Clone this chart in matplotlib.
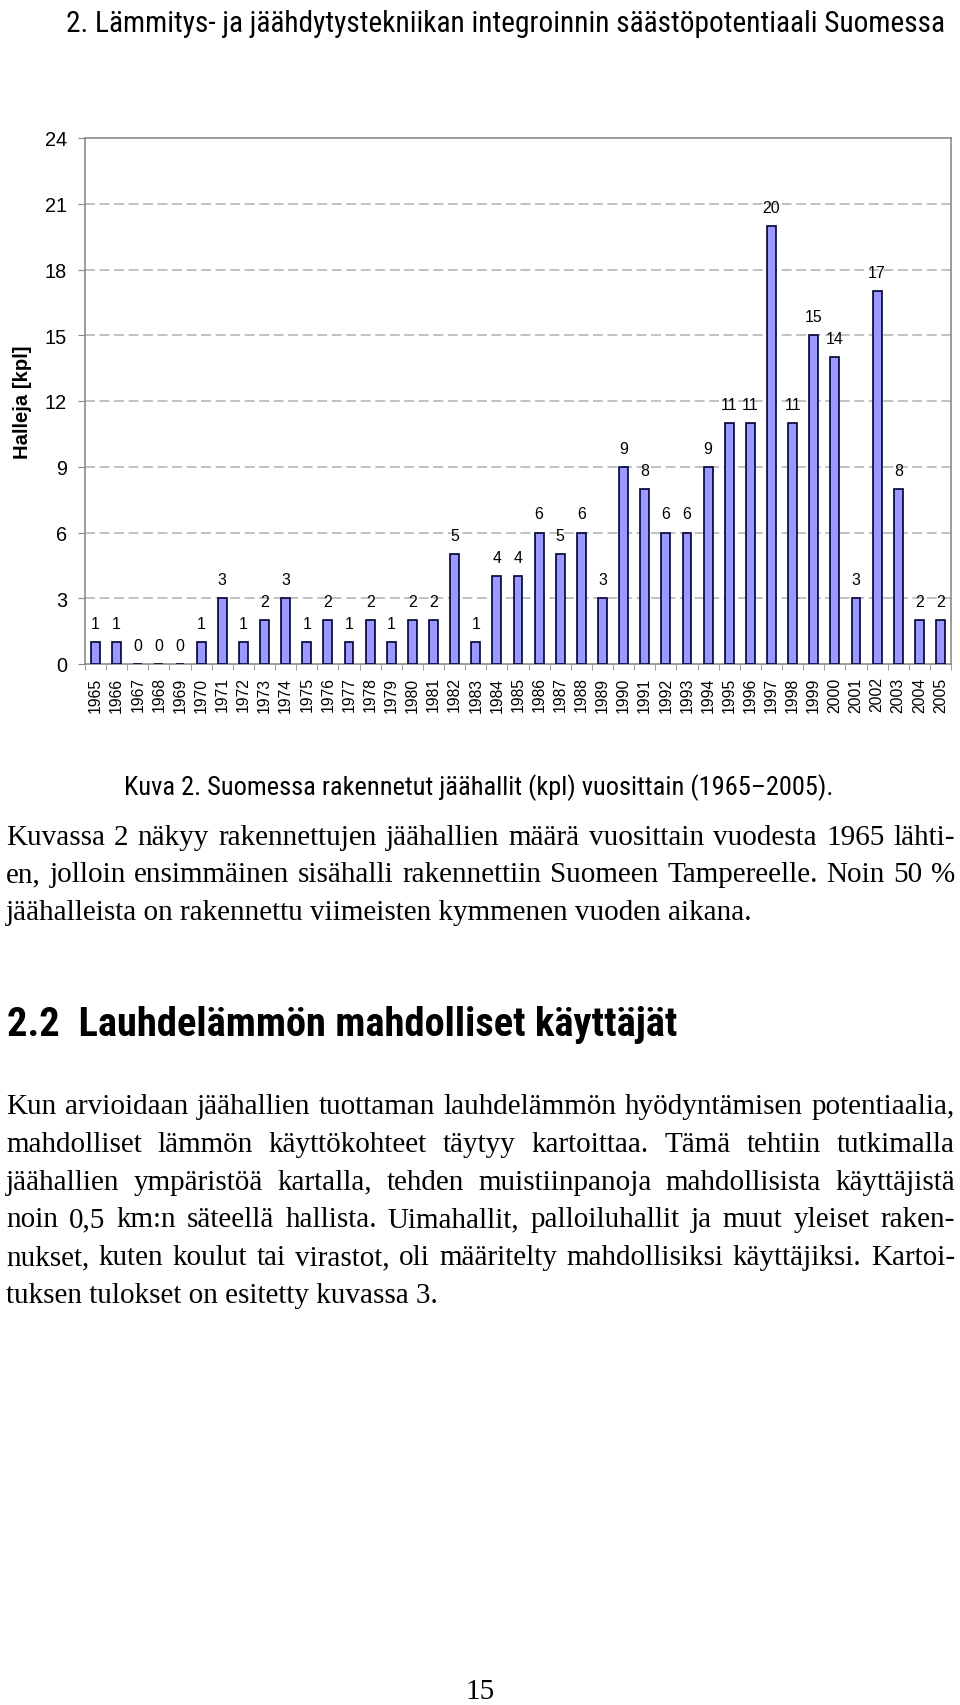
import numpy as np
import matplotlib
matplotlib.use("Agg")
import matplotlib.pyplot as plt
from matplotlib import font_manager

# data: ice halls built in Finland per year
years = list(range(1965, 2006))
halls = [1, 1, 0, 0, 0, 1, 3, 1, 2, 3,
         1, 2, 1, 2, 1, 2, 2, 5, 1, 4,
         4, 6, 5, 6, 3, 9, 8, 6, 6, 9,
         11, 11, 20, 11, 15, 14, 3, 17, 8, 2,
         2]
yticks = [0, 3, 6, 9, 12, 15, 18, 21, 24]

title = "2. Lämmitys- ja jäähdytystekniikan integroinnin säästöpotentiaali Suomessa"
ylabel = "Halleja [kpl]"
caption = "Kuva 2. Suomessa rakennetut jäähallit (kpl) vuosittain (1965\u20132005)."
heading = "2.2  Lauhdelämmön mahdolliset käyttäjät"
para1 = [
    "Kuvassa 2 näkyy rakennettujen jäähallien määrä vuosittain vuodesta 1965 lähti-",
    "en, jolloin ensimmäinen sisähalli rakennettiin Suomeen Tampereelle. Noin 50 %",
    "jäähalleista on rakennettu viimeisten kymmenen vuoden aikana.",
]
para2 = [
    "Kun arvioidaan jäähallien tuottaman lauhdelämmön hyödyntämisen potentiaalia,",
    "mahdolliset lämmön käyttökohteet täytyy kartoittaa. Tämä tehtiin tutkimalla",
    "jäähallien ympäristöä kartalla, tehden muistiinpanoja mahdollisista käyttäjistä",
    "noin 0,5 km:n säteellä hallista. Uimahallit, palloiluhallit ja muut yleiset raken-",
    "nukset, kuten koulut tai virastot, oli määritelty mahdollisiksi käyttäjiksi. Kartoi-",
    "tuksen tulokset on esitetty kuvassa 3.",
]
page_no = "15"

fonts = font_manager.fontManager.ttflist
names = {f.name for f in fonts}
sans = "Liberation Sans" if "Liberation Sans" in names else "DejaVu Sans"
serif = "Liberation Serif" if "Liberation Serif" in names else "DejaVu Serif"

# narrow sans for the page texts (Arial Narrow look), if one is installed
narrow = dict(family=sans)
for nm in ["Liberation Sans Narrow", "Arial Narrow", "Roboto Condensed",
           "Open Sans Condensed"]:
    if nm in names:
        narrow = dict(family=nm)
        break
else:
    for nm in ["Roboto", "Noto Sans", "Open Sans", "DejaVu Sans"]:
        if any(f.name == nm and "condensed" in str(f.stretch).lower()
               for f in fonts):
            narrow = dict(family=nm, fontstretch="condensed")
            break

W, H = 960, 1706
fig = plt.figure(figsize=(W / 100, H / 100), dpi=100)
renderer = fig.canvas.get_renderer()


def fx(px):
    return px / W


def fy(py):
    return 1 - py / H


def text_w(s, size, **kw):
    t = fig.text(0.5, 0.5, s, fontsize=size, **kw)
    w = t.get_window_extent(renderer).width
    t.remove()
    return w


def fit_size(s, target_w, base=20, **kw):
    return base * target_w / text_w(s, base, **kw)


def fit_text(x, y, s, target_w, **kw):
    size = fit_size(s, target_w, **{k: v for k, v in kw.items()
                                    if k not in ("ha", "va")})
    return fig.text(fx(x), fy(y), s, fontsize=size, **kw)


def justify(lines, y0, step, size, left=6, right=955):
    for i, line in enumerate(lines):
        y = y0 + i * step
        if i == len(lines) - 1:
            fig.text(fx(left), fy(y), line, fontsize=size, family=serif,
                     va="baseline", ha="left")
            continue
        words = line.split(" ")
        ws = [text_w(wd, size, family=serif) for wd in words]
        gap = (right - left - sum(ws)) / (len(words) - 1)
        x = left
        for wd, w in zip(words, ws):
            fig.text(fx(x), fy(y), wd, fontsize=size, family=serif,
                     va="baseline", ha="left")
            x += w + gap


# chart
ax = fig.add_axes([fx(85), fy(665), fx(951) - fx(85), fy(139) - fy(665)])
pos = np.arange(len(years))
bars = ax.bar(pos, halls, width=0.42, color="#9999ff",
              edgecolor="#000033", linewidth=1.2, zorder=3)
ax.bar_label(bars, labels=[str(v) for v in halls], padding=8,
             fontsize=11.4, family=sans, color="black")

ax.set_xlim(-0.5, len(years) - 0.5)
ax.set_ylim(0, 24)
ax.set_yticks(yticks)
ax.set_yticklabels([str(v) for v in yticks], fontsize=14.3, family=sans)
ax.set_xticks(pos)
ax.set_xticklabels([str(y) for y in years], rotation=90, fontsize=11.3,
                   family=sans)
ax.set_xticks(np.arange(len(years) + 1) - 0.5, minor=True)
ax.tick_params(axis="x", which="major", length=0, pad=9)
ax.tick_params(axis="x", which="minor", length=4, color="#888888")
ax.tick_params(axis="y", length=5, pad=8, color="#888888")

for v in yticks[1:-1]:
    ax.axhline(v, color="#b0b0b0", linewidth=1.1, linestyle=(0, (6.5, 3)),
               zorder=1)
for sp in ax.spines.values():
    sp.set_color("#8c8c8c")
    sp.set_linewidth(1.2)

fig.text(fx(23), fy(402), ylabel, rotation=90, fontsize=14.6,
         fontweight="bold", family=sans, ha="center", va="center")

# page text
fit_text(66, 32, title, 876, va="baseline", ha="left", **narrow)
fit_text(479, 795, caption, 708, va="baseline", ha="center", **narrow)
fit_text(7, 1036, heading, 670, fontweight="bold",
         va="baseline", ha="left", **narrow)

body = fit_size(para1[-1], 747, family=serif)
justify(para1, 845, 37.5, body)
justify(para2, 1114, 37.8, body)
fig.text(fx(480), fy(1699), page_no, fontsize=body, family=serif,
         ha="center", va="baseline")

fig.savefig("out.png", dpi=100)
